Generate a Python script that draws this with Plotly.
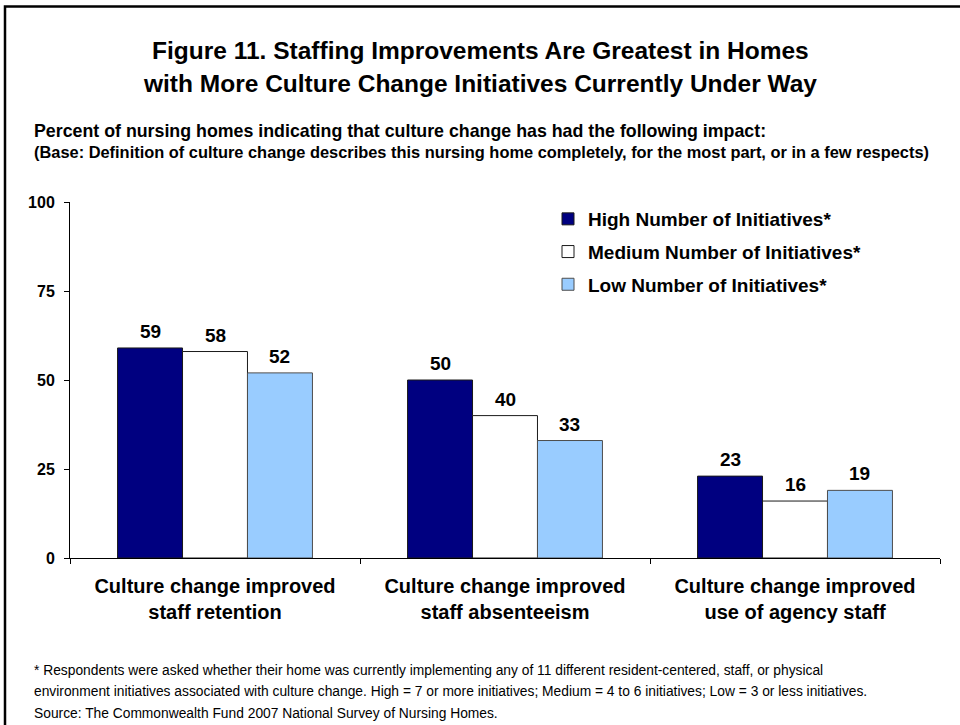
import plotly.graph_objects as go

# --- data -------------------------------------------------------------
categories = [
    "Culture change improved<br>staff retention",
    "Culture change improved<br>staff absenteeism",
    "Culture change improved<br>use of agency staff",
]
series_names = [
    "High Number of Initiatives*",
    "Medium Number of Initiatives*",
    "Low Number of Initiatives*",
]
high_values = [59, 50, 23]
medium_values = [58, 40, 16]
low_values = [52, 33, 19]
y_ticks = [0, 25, 50, 75, 100]

title_lines = [
    "Figure 11. Staffing Improvements Are Greatest in Homes",
    "with More Culture Change Initiatives Currently Under Way",
]
subtitle = "Percent of nursing homes indicating that culture change has had the following impact:"
base_note = ("(Base: Definition of culture change describes this nursing home completely, "
             "for the most part, or in a few respects)")
footnote_lines = [
    "* Respondents were asked whether their home was currently implementing any of 11 different "
    "resident-centered, staff, or physical",
    "environment initiatives associated with culture change. High = 7 or more initiatives; "
    "Medium = 4 to 6 initiatives; Low = 3 or less initiatives.",
]
source_text = "Source: The Commonwealth Fund 2007 National Survey of Nursing Homes."

# --- layout geometry (pixels) ----------------------------------------
W, H = 960, 725
ML, MR, MT, MB = 70, 20, 202, 167
PW, PH = W - ML - MR, H - MT - MB
FONT = "Arial, Liberation Sans, sans-serif"


def px_x(x):
    return (x - ML) / PW


def px_y(y):
    return (H - MB - y) / PH


fills = ["#000080", "#FFFFFF", "#99CCFF"]
edges = ["#1a1a1a", "#1a1a1a", "#4d4d4d"]
all_values = [high_values, medium_values, low_values]

fig = go.Figure()
for i, (name, vals) in enumerate(zip(series_names, all_values)):
    fig.add_trace(go.Bar(
        x=categories, y=vals, name=name,
        legendgroup=f"g{i}",
        marker=dict(color=fills[i], line=dict(color=edges[i], width=1)),
        hoverinfo="skip",
    ))

bargap = 0.328
cat_px = PW / len(categories)
bar_px = cat_px * (1 - bargap) / 3

annotations = []
# value labels above each bar
for i, vals in enumerate(all_values):
    for cat, v in zip(categories, vals):
        annotations.append(dict(
            x=cat, y=v, xref="x", yref="y", text=f"<b>{v}</b>",
            showarrow=False, yanchor="bottom", yshift=4,
            xshift=(i - 1) * bar_px,
            font=dict(family=FONT, size=19, color="#000"),
        ))

# title block
for k, line in enumerate(title_lines):
    annotations.append(dict(
        x=px_x(480), y=px_y(50 + 34 * k), xref="paper", yref="paper",
        text=f"<b>{line}</b>", showarrow=False, xanchor="center", yanchor="middle",
        font=dict(family=FONT, size=24.5, color="#000"),
    ))
annotations.append(dict(
    x=px_x(32), y=px_y(131), xref="paper", yref="paper",
    text=f"<b>{subtitle}</b>", showarrow=False, xanchor="left", yanchor="middle",
    font=dict(family=FONT, size=17.8, color="#000"),
))
annotations.append(dict(
    x=px_x(32), y=px_y(152), xref="paper", yref="paper",
    text=f"<b>{base_note}</b>", showarrow=False, xanchor="left", yanchor="middle",
    font=dict(family=FONT, size=16.4, color="#000"),
))
# footnotes
for k, line in enumerate(footnote_lines):
    annotations.append(dict(
        x=px_x(32), y=px_y(670 + 21 * k), xref="paper", yref="paper",
        text=line, showarrow=False, xanchor="left", yanchor="middle",
        font=dict(family=FONT, size=13.8, color="#000"),
    ))
annotations.append(dict(
    x=px_x(32), y=px_y(713), xref="paper", yref="paper",
    text=source_text, showarrow=False, xanchor="left", yanchor="middle",
    font=dict(family=FONT, size=13.8, color="#000"),
))

# frame around the figure (left and top edges visible)
shapes = [dict(
    type="rect", xref="paper", yref="paper",
    x0=px_x(5), x1=px_x(975), y0=px_y(740), y1=px_y(6.5),
    line=dict(color="#000", width=2.5), fillcolor="rgba(0,0,0,0)", layer="above",
)]

fig.update_layout(
    width=W, height=H,
    margin=dict(l=ML, r=MR, t=MT, b=MB, pad=0),
    paper_bgcolor="white", plot_bgcolor="white",
    barmode="group", bargap=bargap, bargroupgap=0,
    font=dict(family=FONT, color="#000"),
    showlegend=True,
    legend=dict(
        x=px_x(548), y=px_y(200), xanchor="left", yanchor="top",
        bgcolor="rgba(0,0,0,0)", traceorder="grouped", tracegroupgap=5,
        font=dict(family=FONT, size=19, color="#000", weight="bold"),
        itemclick=False, itemdoubleclick=False,
    ),
    annotations=annotations,
    shapes=shapes,
)
fig.update_yaxes(
    range=[0, 100], tickvals=y_ticks, ticktext=[f"<b>{t}</b>" for t in y_ticks],
    showgrid=False, zeroline=False,
    showline=True, linecolor="#000", linewidth=1,
    ticks="outside", ticklen=5, tickcolor="#000", ticklabelstandoff=6,
    tickfont=dict(family=FONT, size=16, color="#000"),
)
fig.update_xaxes(
    showgrid=False, showline=True, linecolor="#000", linewidth=1,
    ticks="outside", ticklen=5, tickcolor="#000", tickson="boundaries",
    ticklabelstandoff=10,
    tickfont=dict(family=FONT, size=20, color="#000", weight="bold"),
)

fig.write_html("out.html")
